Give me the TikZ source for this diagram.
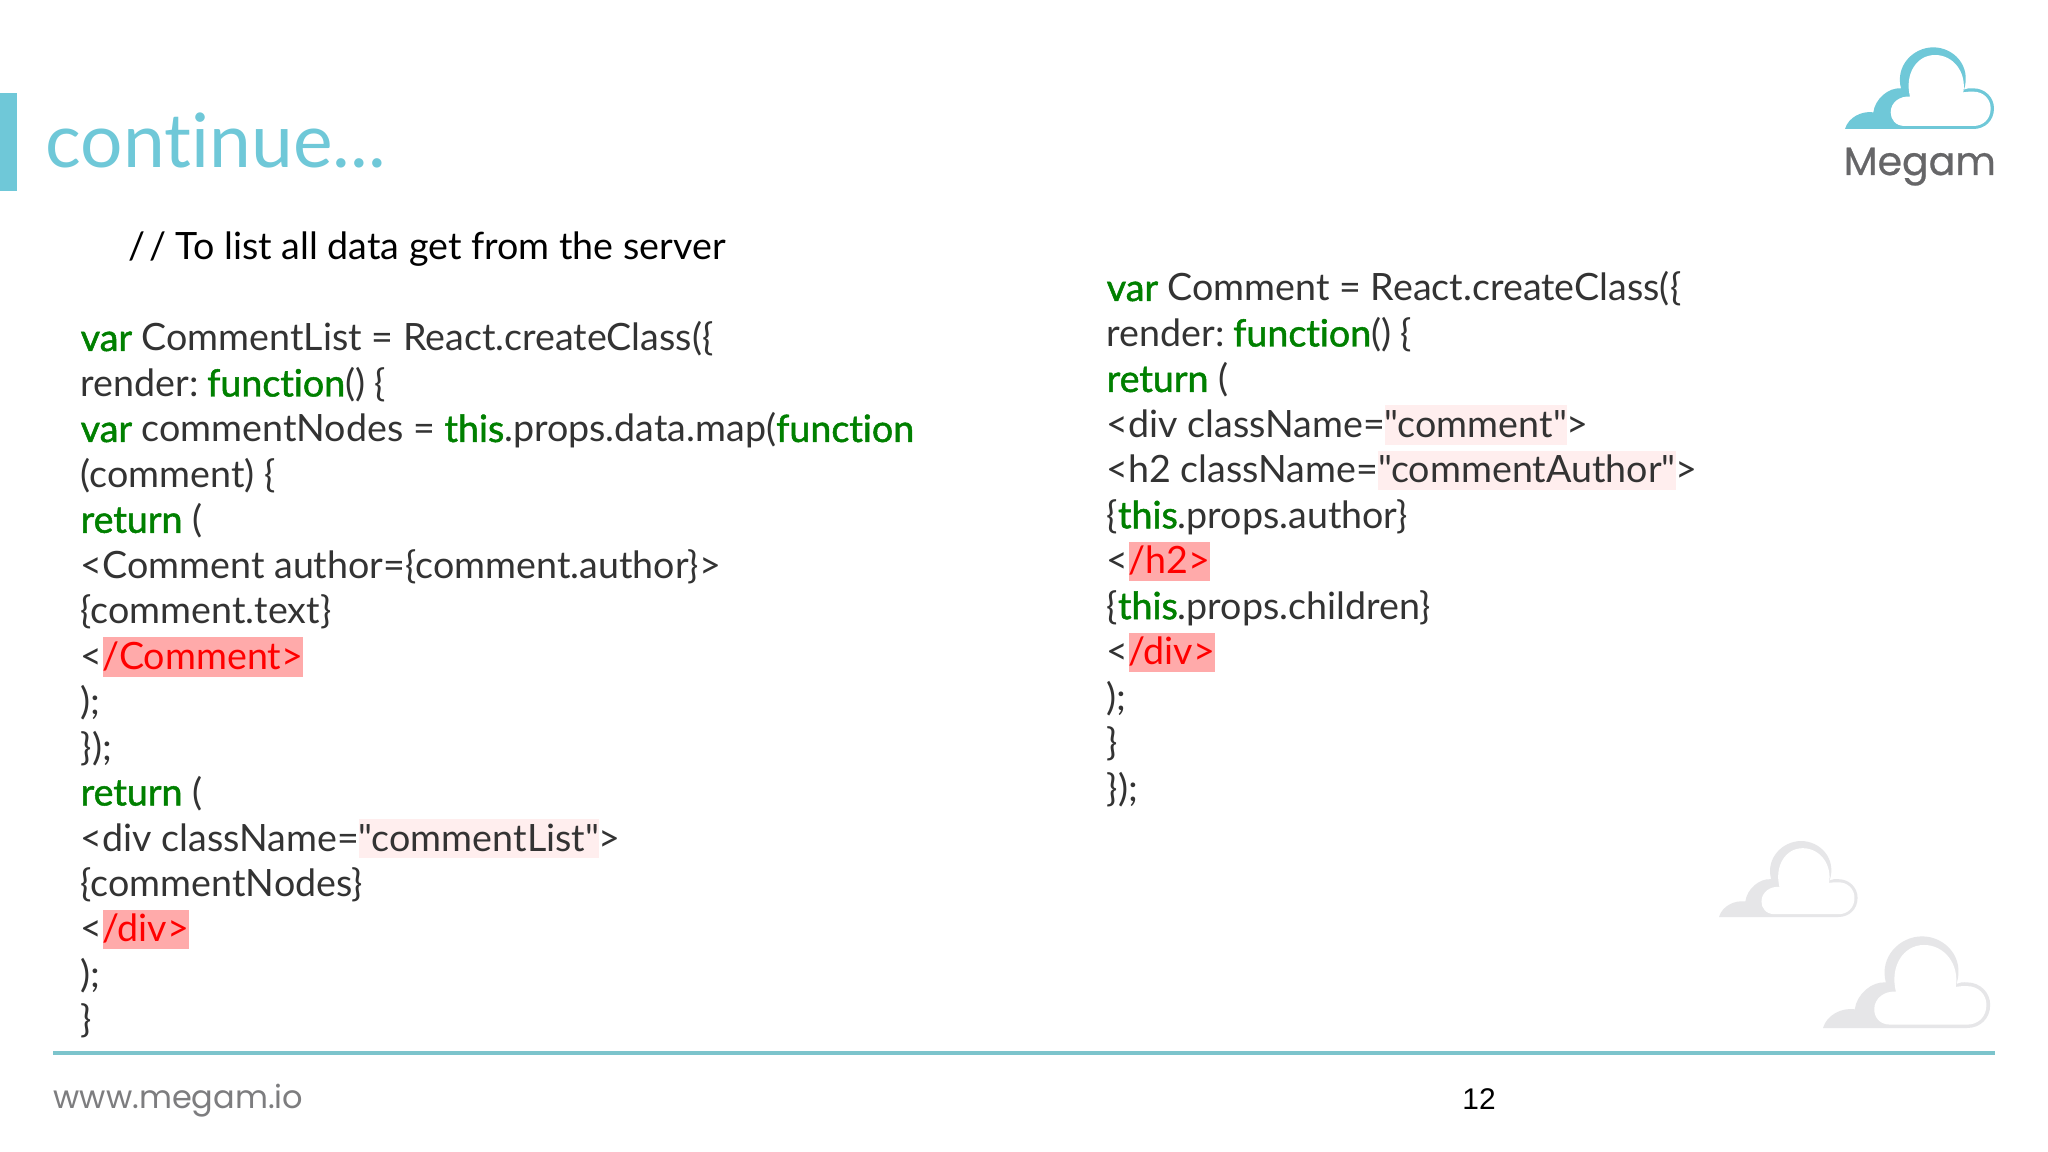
\documentclass[tikz,border=0pt]{standalone}
\usepackage{fontspec}
\setmainfont{Lato}[Ligatures={TeXOff,CommonOff}]
\newfontfamily\kwfont{Lato}[Ligatures={TeXOff,CommonOff},FakeBold=1.3]
\newfontfamily\logofont{Poppins}[FakeBold=0.6]
\newfontfamily\sitefont{Poppins}
\newfontfamily\pagefont{Liberation Sans}
\definecolor{megamblue}{HTML}{6FC8D8}
\definecolor{rulecolor}{HTML}{7CC4CC}
\definecolor{cloudgrey}{HTML}{E6E6E8}
\definecolor{logogrey}{HTML}{666668}
\definecolor{codegrey}{HTML}{333333}
\definecolor{kwgreen}{HTML}{008000}
\definecolor{tagred}{HTML}{FFAAAA}
\definecolor{strpink}{HTML}{FFEEEE}
\setlength{\fboxsep}{0pt}
\def\kw#1{\textcolor{kwgreen}{\kwfont #1}}
\def\closetag#1{\colorbox{tagred}{\rule[-2.1pt]{0pt}{11.2pt}\textcolor{red}{#1}}}
\def\strlit#1{\colorbox{strpink}{\rule[-2.1pt]{0pt}{11.2pt}#1}}
\tikzset{
	codeline/.style={anchor=base west, inner sep=0pt, text=codegrey, font=\fontsize{10.7}{12}\selectfont},
	cloud/.pic={
		\fill[pic actions] (0,0) .. controls (10,-35) and (50,-55) .. (85,-50) .. controls (90,-90) and (130,-125) .. (168,-122)
			.. controls (150,-190) and (205,-245) .. (265,-245) .. controls (325,-245) and (380,-190) .. (357,-118)
			.. controls (365,-122) and (375,-123) .. (385,-122) .. controls (420,-122) and (447,-95) .. (447,-62)
			.. controls (447,-25) and (420,0) .. (385,0) -- cycle;
		\fill[white] (195,-97) .. controls (178,-165) and (215,-222) .. (270,-222) .. controls (325,-222) and (365,-170) .. (355,-110)
			.. controls (365,-112) and (375,-112) .. (385,-112) .. controls (415,-112) and (437,-90) .. (437,-62)
			.. controls (437,-30) and (415,-9) .. (385,-9) -- (180,-9) .. controls (150,-9) and (137,-30) .. (137,-50)
			.. controls (137,-80) and (165,-100) .. (195,-97) -- cycle;
	}
}

\begin{document}
\begin{tikzpicture}[x=0.01cm, y=-0.01cm]
	\useasboundingbox[fill=white] (0,0) rectangle (2048,1152);
	%%%%% START %%%%%
	\fill[megamblue] (0,93) rectangle (17,191);
	\node[anchor=base west, inner sep=0pt, text=megamblue, font=\fontsize{21.3}{24}\selectfont] (title) at (45,168) {continue...};

	\pic[fill=megamblue, scale=0.3333] at (1845,129) {cloud={}};
	\node[anchor=base west, inner sep=0pt, text=logogrey, font=\logofont\fontsize{11.2}{14}\selectfont] (logo) at (1843,175) {Megam};

	\pic[fill=cloudgrey, scale=0.31] at (1719,917) {cloud={}};
	\pic[fill=cloudgrey, scale=0.374] at (1823,1028) {cloud={}};

	\node[codeline, text=black] (note) at (128,260) {/\kern1pt/ To list all data get from the server};

	\node[codeline] (l1) at (80,351) {\kw{var} CommentList = React.createClass(\{};
	\node[codeline] (l2) at (80,396.5) {render:\kern-1.2pt{} \kw{function}() \{};
	\node[codeline] (l3) at (80,442) {\kw{var} commentNodes = \kw{this}.props.data.map(\kw{function}};
	\node[codeline] (l4) at (80,487.4) {(comment) \{};
	\node[codeline] (l5) at (80,532.8) {\kw{return} (};
	\node[codeline] (l6) at (80,578.3) {<Comment author=\{comment.author\}>};
	\node[codeline] (l7) at (80,623.7) {\{comment.text\}};
	\node[codeline] (l8) at (80,669.2) {<\closetag{/Comment>}};
	\node[codeline] (l9) at (80,714.6) {);};
	\node[codeline] (l10) at (80,760) {\});};
	\node[codeline] (l11) at (80,805.5) {\kw{return} (};
	\node[codeline] (l12) at (80,851) {<div className=\strlit{"commentList"}>};
	\node[codeline] (l13) at (80,896.4) {\{commentNodes\}};
	\node[codeline] (l14) at (80,941.8) {<\closetag{/div>}};
	\node[codeline] (l15) at (80,987.3) {);};
	\node[codeline] (l16) at (80,1032.7) {\}};

	\node[codeline] (r1) at (1106,301) {\kw{var} Comment = React.createClass(\{};
	\node[codeline] (r2) at (1106,346.5) {render:\kern-1.2pt{} \kw{function}() \{};
	\node[codeline] (r3) at (1106,392) {\kw{return} (};
	\node[codeline] (r4) at (1106,437.4) {<div className=\strlit{"comment"}>};
	\node[codeline] (r5) at (1106,482.8) {<h2 className=\strlit{"commentAuthor"}>};
	\node[codeline] (r6) at (1106,528.3) {\{\kw{this}.props.author\}};
	\node[codeline] (r7) at (1106,573.7) {<\closetag{/h2>}};
	\node[codeline] (r8) at (1106,619.2) {\{\kw{this}.props.children\}};
	\node[codeline] (r9) at (1106,664.6) {<\closetag{/div>}};
	\node[codeline] (r10) at (1106,710) {);};
	\node[codeline] (r11) at (1106,755.5) {\}};
	\node[codeline] (r12) at (1106,801) {\});};

	\draw[rulecolor, line width=1.35pt] (53,1053) -- (1995,1053);
	\node[anchor=base west, inner sep=0pt, text=logogrey!85, font=\sitefont\fontsize{9.1}{10}\selectfont] (site) at (53,1108) {www.megam.io};
	\node[anchor=base, inner sep=0pt, text=black, font=\pagefont\fontsize{8.5}{10}\selectfont] (page) at (1479,1109) {12};
	%%%%% END %%%%%
\end{tikzpicture}
\end{document}
